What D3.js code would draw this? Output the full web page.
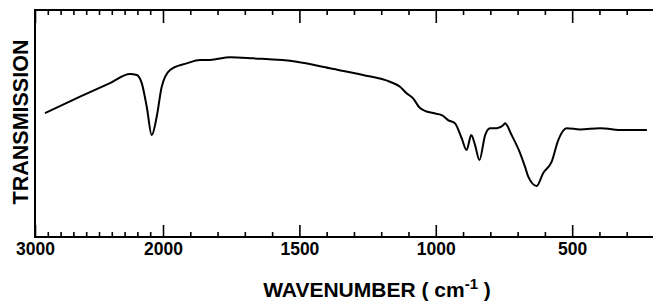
<!DOCTYPE html>
<html>
<head>
<meta charset="utf-8">
<script src="https://cdn.jsdelivr.net/npm/d3@7"></script>
<style>
  body { margin: 0; background: #fff; }
  text { font-family: "Liberation Sans", Arial, sans-serif; font-weight: bold; fill: #000; }
</style>
</head>
<body>
<script>
'use strict';
// wavenumber (cm-1) and transmission (arbitrary %)
let wavenumber = [2922, 2648, 2414, 2258, 2205, 2166, 2127, 2088, 2049, 2010, 1974, 1913, 1864, 1828,
  1754, 1670, 1510, 1388, 1267, 1168, 1131, 1107, 1084, 1058, 1040, 1010, 978, 955, 930, 905, 887, 870,
  856, 840, 819, 801, 776, 752, 746, 722, 691, 673, 661, 630, 606, 575, 551, 520, 471, 398, 312, 226];
let transmission = [54.6, 61.8, 67.8, 71.8, 71.4, 67.8, 57.4, 44.9, 53.0, 66.2, 73.6, 76.5, 78.0, 78.0,
  79.2, 78.7, 77.2, 74.3, 71.4, 68.4, 66.2, 63.3, 61.2, 56.8, 55.6, 54.6, 53.7, 51.5, 50.1, 43.5, 38.3, 44.9,
  40.5, 33.9, 44.9, 47.9, 47.9, 49.3, 50.1, 44.9, 37.0, 31.0, 26.6, 22.5, 28.2, 33.2, 42.7, 47.9, 47.4,
  47.9, 47.1, 47.1];
let majorTicks = [3000, 2000, 1500, 1000, 500];
let minorTicks = d3.range(300, 3000, 100).filter(function(d){ return majorTicks.indexOf(d) < 0; });

let width = 653, height = 307;
let plotLeft = 35, plotRight = 654, plotTop = 10, plotBottom = 237;

let x = d3.scaleLinear().domain([3000, 2000, 200]).range([plotLeft, 163, plotRight]);
let y = d3.scaleLinear().domain([0, 100]).range([plotBottom, plotTop]);

let svg = d3.select("body").append("svg")
	.attr("width", width)
	.attr("height", height);

// bottom axis: inward ticks, labels below
let gB = svg.append("g").attr("transform", "translate(0," + plotBottom + ")");
gB.append("g").call(d3.axisBottom(x).tickValues(minorTicks).tickSize(-5).tickFormat(""));
gB.append("g").call(d3.axisBottom(x).tickValues(majorTicks).tickSize(-12).tickPadding(6).tickFormat(d3.format("d")));
gB.selectAll(".domain").remove();
gB.selectAll("text").attr("font-size", 17.5).attr("font-family", null);

// top axis: inward ticks, no labels
let gT = svg.append("g").attr("transform", "translate(0," + plotTop + ")");
gT.append("g").call(d3.axisTop(x).tickValues(minorTicks).tickSize(-5).tickFormat(""));
gT.append("g").call(d3.axisTop(x).tickValues(majorTicks).tickSize(-13).tickFormat(""));
gT.selectAll(".domain").remove();

svg.selectAll(".tick line").attr("stroke", "#000").attr("stroke-width", 1.6);

// frame (no right side)
svg.append("path")
	.attr("d", "M" + width + "," + plotTop + "H" + plotLeft + "V" + plotBottom + "H" + width)
	.attr("fill", "none")
	.attr("stroke", "#000")
	.attr("stroke-width", 2);

// spectrum
let line = d3.line()
	.x(function(d, i){ return x(wavenumber[i]); })
	.y(function(d, i){ return y(transmission[i]); })
	.curve(d3.curveMonotoneX);

svg.append("path")
	.datum(wavenumber)
	.attr("d", line)
	.attr("fill", "none")
	.attr("stroke", "#000")
	.attr("stroke-width", 2);

// axis titles
let xt = svg.append("text")
	.attr("x", 377)
	.attr("y", 297)
	.attr("text-anchor", "middle")
	.attr("font-size", 21);
xt.append("tspan").text("WAVENUMBER ( cm");
xt.append("tspan").attr("dy", -8).attr("font-size", 15).text("-1");
xt.append("tspan").attr("dy", 8).text(" )");

svg.append("text")
	.attr("transform", "translate(28,122) rotate(-90)")
	.attr("text-anchor", "middle")
	.attr("font-size", 21.5)
	.text("TRANSMISSION");
</script>
</body>
</html>
